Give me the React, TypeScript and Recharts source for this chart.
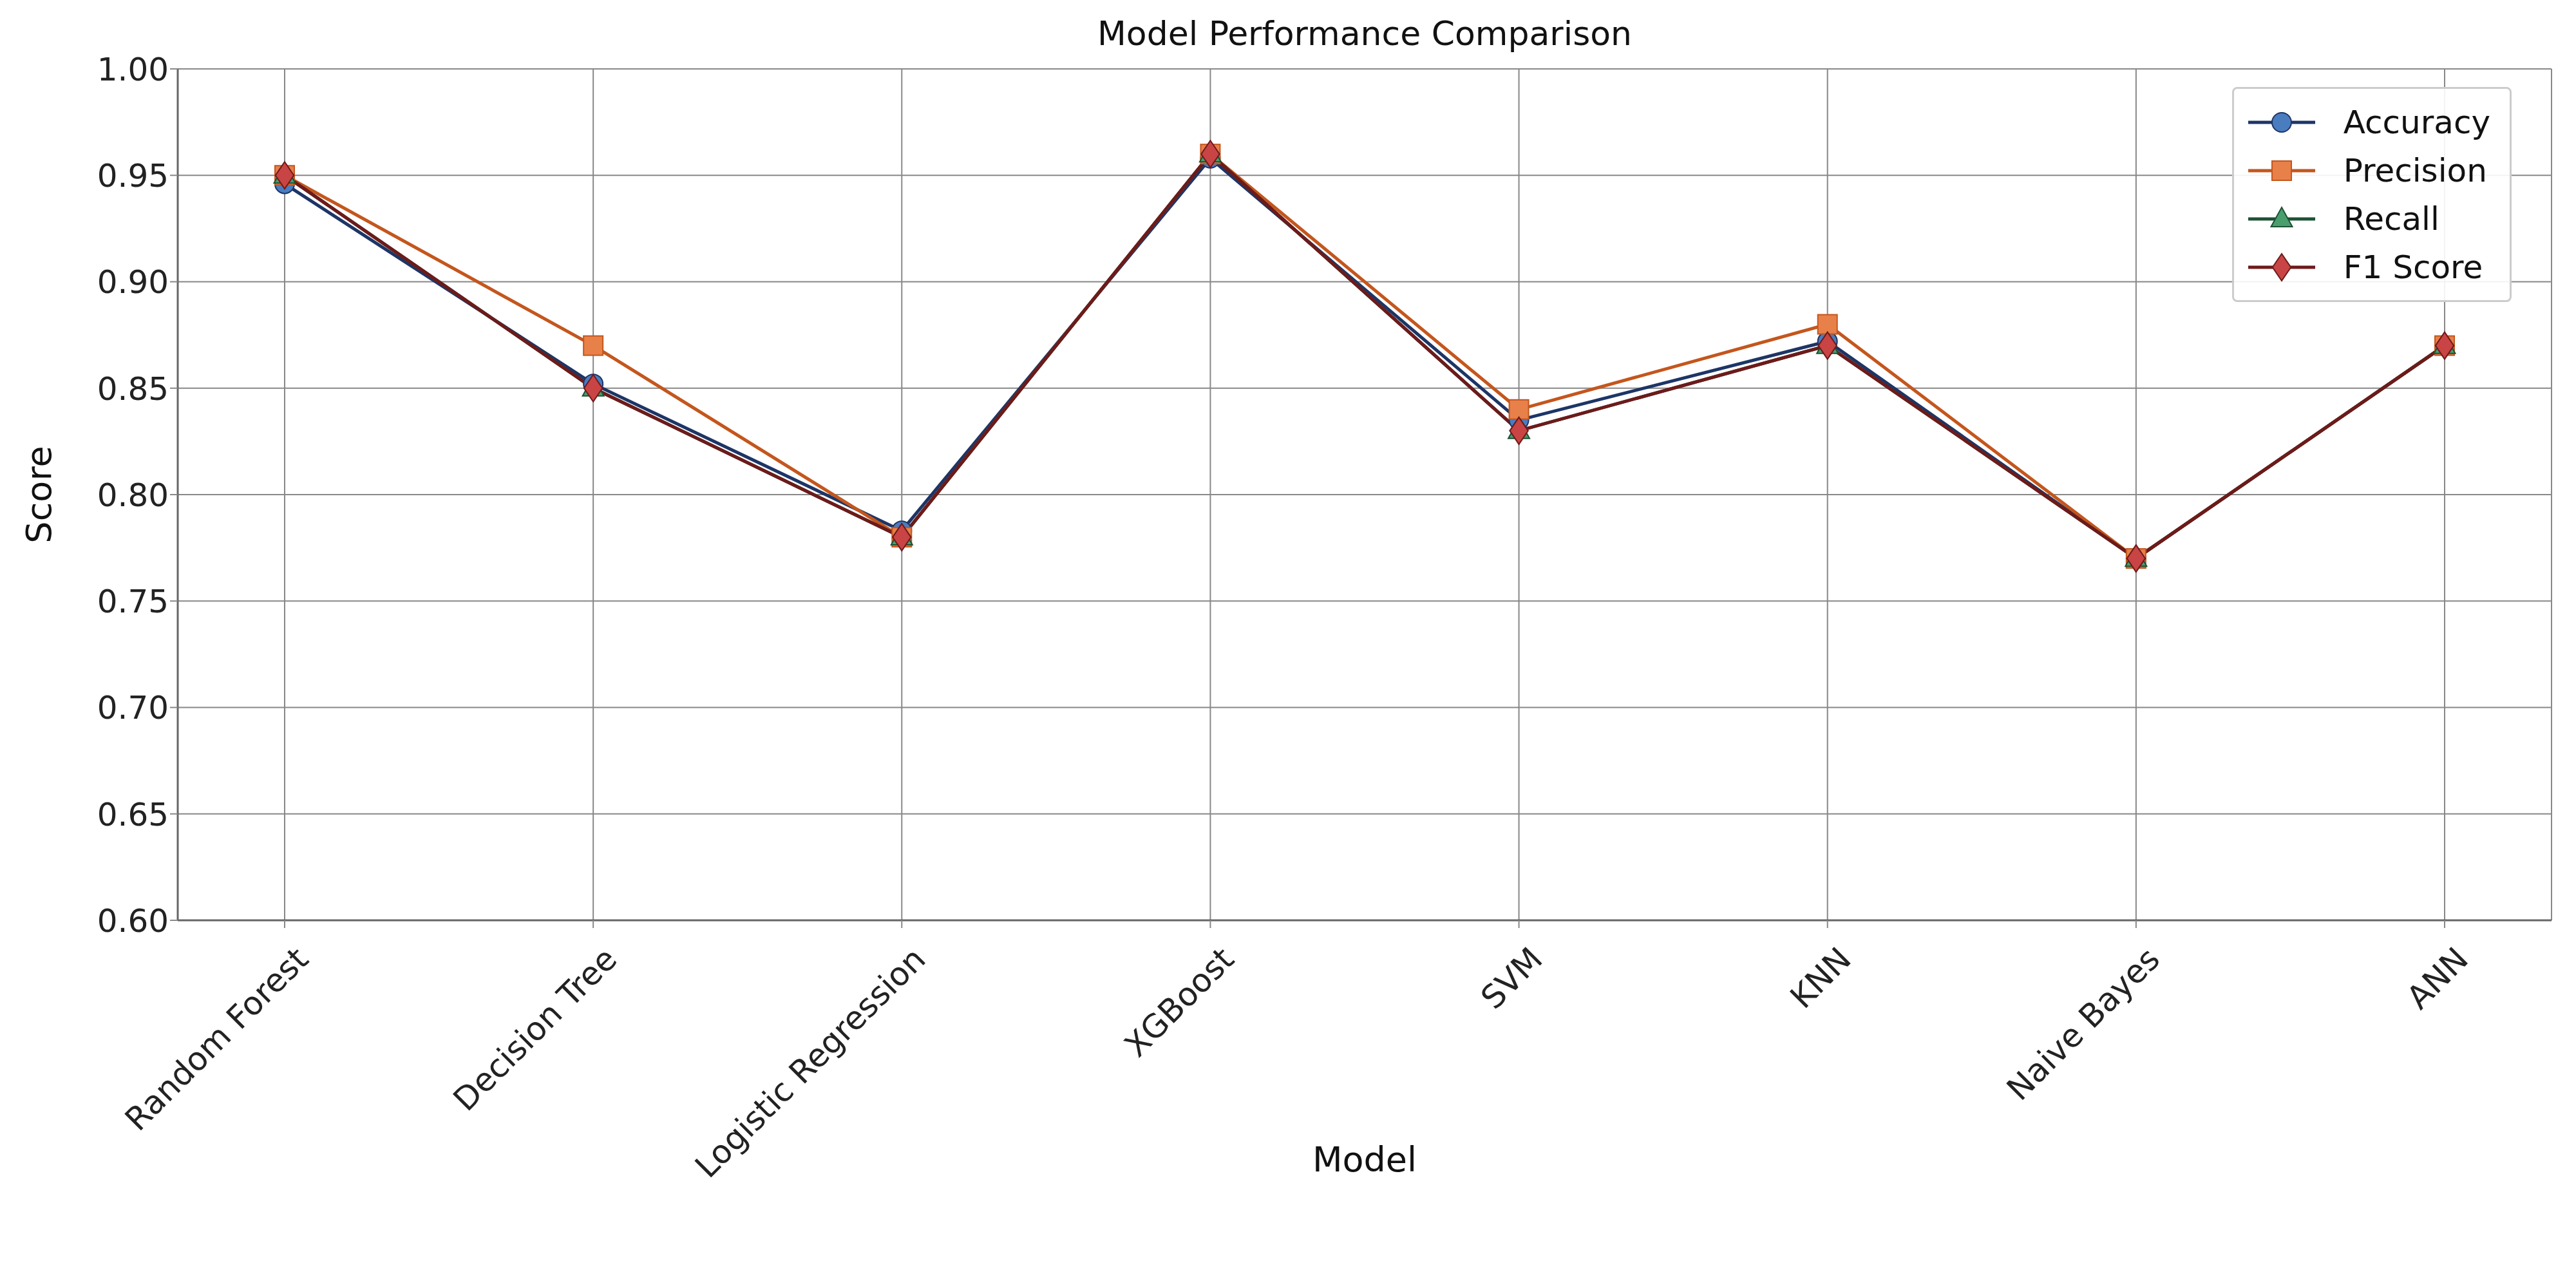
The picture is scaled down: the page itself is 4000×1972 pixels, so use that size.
import React from 'react';
import { LineChart, Line, XAxis, YAxis, CartesianGrid } from 'recharts';

const models = ['Random Forest', 'Decision Tree', 'Logistic Regression', 'XGBoost', 'SVM', 'KNN', 'Naive Bayes', 'ANN'];
const accuracy = [0.946, 0.852, 0.783, 0.958, 0.835, 0.872, 0.77, 0.87];
const precision = [0.95, 0.87, 0.78, 0.96, 0.84, 0.88, 0.77, 0.87];
const recall = [0.95, 0.85, 0.78, 0.96, 0.83, 0.87, 0.77, 0.87];
const f1 = [0.95, 0.85, 0.78, 0.96, 0.83, 0.87, 0.77, 0.87];
const yTicks = [0.6, 0.65, 0.7, 0.75, 0.8, 0.85, 0.9, 0.95, 1.0];

const data = models.map((m, i) => ({ model: m, Accuracy: accuracy[i], Precision: precision[i], Recall: recall[i], F1: f1[i] }));

const FONT = 'DejaVu Sans, sans-serif';

const series = [
  { key: 'Accuracy', name: 'Accuracy', line: '#1d3566', fill: '#4a7cc0', shape: 'circle' },
  { key: 'Precision', name: 'Precision', line: '#c4561d', fill: '#e8804a', shape: 'square' },
  { key: 'Recall', name: 'Recall', line: '#1b5234', fill: '#4a9e6e', shape: 'triangle' },
  { key: 'F1', name: 'F1 Score', line: '#6e1a1a', fill: '#c94444', shape: 'diamond' },
];

function Marker({ cx, cy, shape, fill, stroke, s = 15 }: any) {
  if (cx == null || cy == null) return null;
  if (shape === 'circle') return <circle cx={cx} cy={cy} r={s} fill={fill} stroke={stroke} strokeWidth={2} />;
  if (shape === 'square') return <rect x={cx - s} y={cy - s} width={2 * s} height={2 * s} fill={fill} stroke={stroke} strokeWidth={2} />;
  if (shape === 'triangle') return <polygon points={`${cx},${cy - s * 1.2} ${cx + s * 1.1},${cy + s * 0.8} ${cx - s * 1.1},${cy + s * 0.8}`} fill={fill} stroke={stroke} strokeWidth={2} />;
  return <polygon points={`${cx},${cy - s * 1.4} ${cx + s * 0.95},${cy} ${cx},${cy + s * 1.4} ${cx - s * 0.95},${cy}`} fill={fill} stroke={stroke} strokeWidth={2} />;
}

function XTick({ x, y, payload }: any) {
  const ax = x + 30, ay = y + 40;
  return (
    <text x={ax} y={ay} transform={`rotate(-45 ${ax} ${ay})`} textAnchor="end" dominantBaseline="middle"
      fontSize={50} fontFamily={FONT} fill="#222">{payload.value}</text>
  );
}

function LegendBox() {
  return (
    <div style={{ position: 'absolute', right: 100, top: 135, border: '3px solid #ccc', borderRadius: 8, background: 'rgba(255,255,255,0.9)', padding: '14px 30px 14px 14px', fontFamily: FONT, fontSize: 50, color: '#111', zIndex: 2 }}>
      {series.map((s) => (
        <div key={s.key} style={{ display: 'flex', alignItems: 'center', height: 75 }}>
          <svg width={120} height={60} style={{ marginRight: 36 }}>
            <line x1={8} y1={30} x2={112} y2={30} stroke={s.line} strokeWidth={5} />
            <Marker cx={60} cy={30} shape={s.shape} fill={s.fill} stroke={s.line} s={15} />
          </svg>
          <span>{s.name}</span>
        </div>
      ))}
    </div>
  );
}

export default function App() {
  return (
    <div style={{ position: 'absolute', left: 0, top: 0, width: 4000, height: 1972, background: '#fff' }}>
      <div style={{ position: 'absolute', left: 276, width: 3686, top: 22, textAlign: 'center', fontFamily: FONT, fontSize: 52, color: '#111' }}>
        Model Performance Comparison
      </div>
      <LegendBox />
      <LineChart width={4000} height={1972} data={data} margin={{ top: 107, right: 38, left: 100, bottom: 143 }}>
        <CartesianGrid stroke="#888" strokeWidth={2} />
        <XAxis dataKey="model" padding={{ left: 166, right: 166 }} height={400} tick={<XTick />} tickLine={{ stroke: '#888', strokeWidth: 2 }} tickSize={12}
          axisLine={{ stroke: '#666', strokeWidth: 3 }} interval={0}
          label={{ value: 'Model', position: 'insideBottom', offset: 10, fontSize: 54, fontFamily: FONT, fill: '#111' }} />
        <XAxis xAxisId="top" dataKey="model" orientation="top" height={0} tick={false} tickLine={false} axisLine={{ stroke: '#666', strokeWidth: 3 }} padding={{ left: 166, right: 166 }} />
        <YAxis domain={[0.6, 1.0]} ticks={yTicks} width={176} tickFormatter={(v: number) => v.toFixed(2)}
          tick={{ fontSize: 50, fontFamily: FONT, fill: '#222' }} tickLine={{ stroke: '#888', strokeWidth: 2 }} tickSize={12}
          axisLine={{ stroke: '#666', strokeWidth: 3 }}
          label={{ value: 'Score', angle: -90, position: 'insideLeft', offset: -40, fontSize: 54, fontFamily: FONT, fill: '#111', style: { textAnchor: 'middle' } }} />
        <YAxis yAxisId="right" orientation="right" domain={[0.6, 1.0]} width={0} tick={false} tickLine={false} axisLine={{ stroke: '#666', strokeWidth: 3 }} />
        {series.map((s) => (
          <Line key={s.key} dataKey={s.key} name={s.name} stroke={s.line} strokeWidth={5} isAnimationActive={false}
            dot={(p: any) => <Marker key={`${s.key}-${p.index}`} cx={p.cx} cy={p.cy} shape={s.shape} fill={s.fill} stroke={s.line} s={15} />}
            activeDot={false} />
        ))}
      </LineChart>
    </div>
  );
}
